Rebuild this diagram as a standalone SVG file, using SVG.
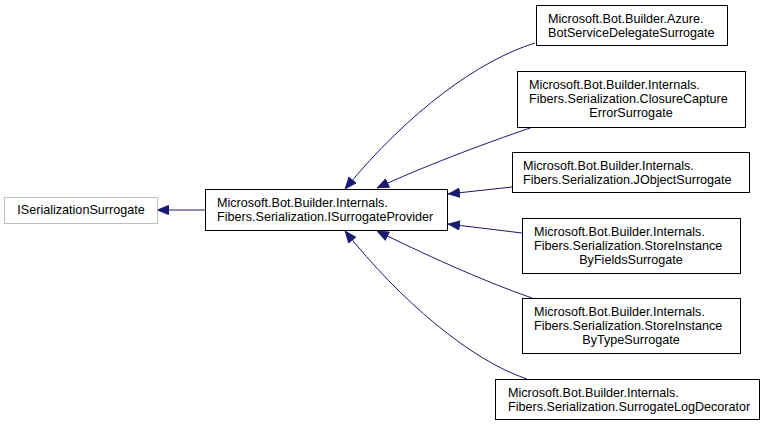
<svg xmlns="http://www.w3.org/2000/svg" width="772" height="425" viewBox="0 0 772 425">
<defs>
<style>
.n{fill:#ffffff;stroke:#000000;stroke-width:1}
.g{fill:#ffffff;stroke:#bfbfbf;stroke-width:1}
text{font-family:"Liberation Sans",Arial,sans-serif;font-size:12.6px;fill:#000000}
.c{text-anchor:middle}
.e{fill:none;stroke:#191970;stroke-width:1;marker-end:url(#a)}
</style>
<marker id="a" markerUnits="userSpaceOnUse" markerWidth="12" markerHeight="10" refX="12" refY="5" orient="auto" viewBox="0 0 12 10">
<path d="M0.5,0.5 L11.5,5 L0.5,9.5 z" fill="#191970" stroke="#191970"/>
</marker>
</defs>
<rect width="772" height="425" fill="#ffffff"/>
<g id="edges">
<path class="e" d="M205,210 L157,210"/>
<path class="e" d="M535,43 C480,60 410,110 345,189"/>
<path class="e" d="M533,127 C480,145 420,168 377,188"/>
<path class="e" d="M512,187 L448,194"/>
<path class="e" d="M522,233 L448,224"/>
<path class="e" d="M532,298 C480,280 420,252 377,231"/>
<path class="e" d="M527,379 C470,360 400,300 345,231"/>
</g>
<g id="ISerializationSurrogate">
<rect class="g" x="4.5" y="197.5" width="153" height="26"/>
<text x="81" y="214" class="c">ISerializationSurrogate</text>
</g>
<g id="ISurrogateProvider">
<rect class="n" x="205.5" y="189.5" width="242" height="41"/>
<text x="217" y="207">Microsoft.Bot.Builder.Internals.</text>
<text x="217" y="221">Fibers.Serialization.ISurrogateProvider</text>
</g>
<g id="BotServiceDelegateSurrogate">
<rect class="n" x="536.5" y="5.5" width="191" height="40"/>
<text x="548" y="23">Microsoft.Bot.Builder.Azure.</text>
<text x="548" y="37">BotServiceDelegateSurrogate</text>
</g>
<g id="ClosureCaptureErrorSurrogate">
<rect class="n" x="517.5" y="71.5" width="228" height="56"/>
<text x="529" y="89">Microsoft.Bot.Builder.Internals.</text>
<text x="529" y="103">Fibers.Serialization.ClosureCapture</text>
<text x="631" y="117" class="c">ErrorSurrogate</text>
</g>
<g id="JObjectSurrogate">
<rect class="n" x="512.5" y="152.5" width="237" height="40"/>
<text x="523" y="170">Microsoft.Bot.Builder.Internals.</text>
<text x="523" y="184">Fibers.Serialization.JObjectSurrogate</text>
</g>
<g id="StoreInstanceByFieldsSurrogate">
<rect class="n" x="522.5" y="218.5" width="218" height="55"/>
<text x="534" y="236">Microsoft.Bot.Builder.Internals.</text>
<text x="534" y="250">Fibers.Serialization.StoreInstance</text>
<text x="631" y="264" class="c">ByFieldsSurrogate</text>
</g>
<g id="StoreInstanceByTypeSurrogate">
<rect class="n" x="522.5" y="298.5" width="218" height="55"/>
<text x="534" y="316">Microsoft.Bot.Builder.Internals.</text>
<text x="534" y="330">Fibers.Serialization.StoreInstance</text>
<text x="631" y="344" class="c">ByTypeSurrogate</text>
</g>
<g id="SurrogateLogDecorator">
<rect class="n" x="495.5" y="379.5" width="264" height="40"/>
<text x="508" y="397">Microsoft.Bot.Builder.Internals.</text>
<text x="508" y="411">Fibers.Serialization.SurrogateLogDecorator</text>
</g>
</svg>
